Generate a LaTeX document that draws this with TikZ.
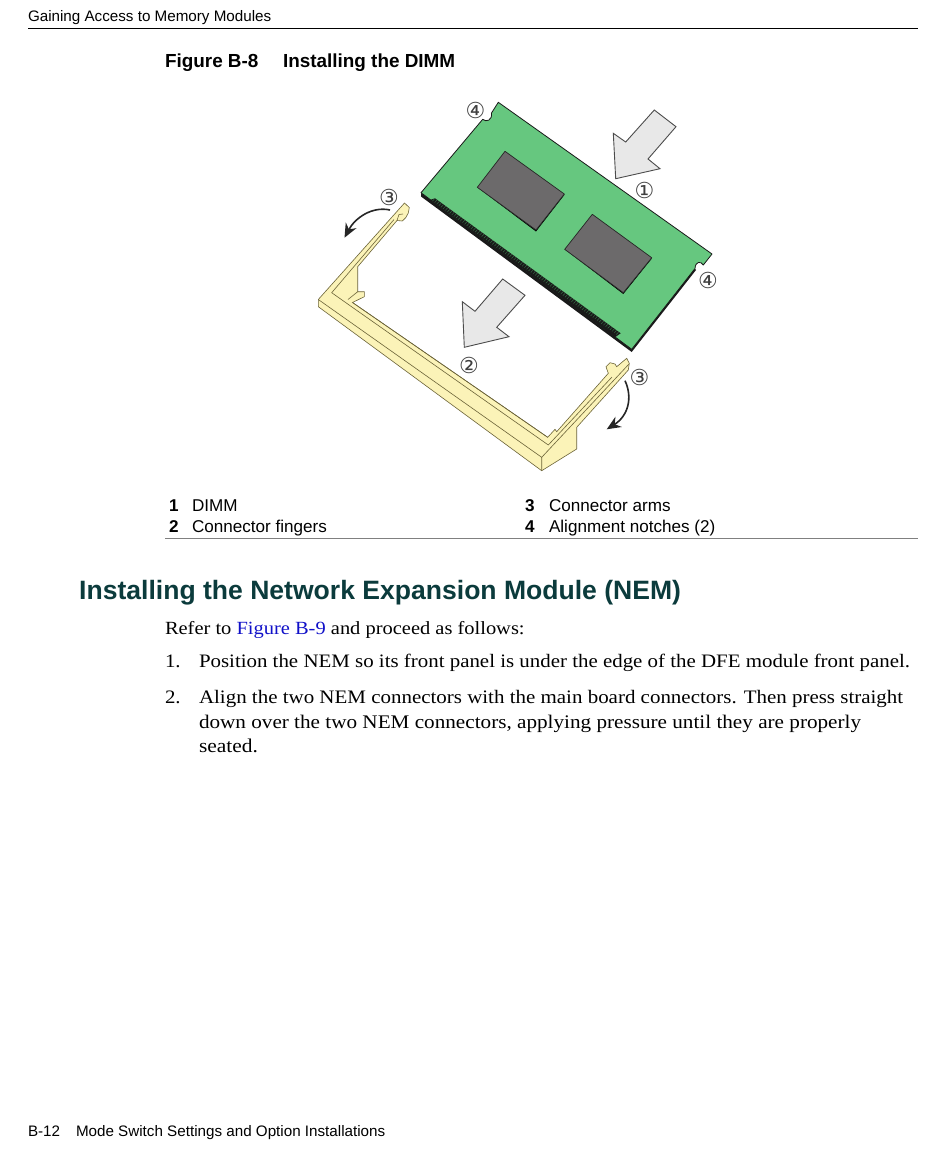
\documentclass[tikz,border=0pt]{standalone}
\usepackage{fontspec}
\setmainfont{Liberation Sans}
\newfontfamily\bodyfont[FakeStretch=1.1]{Liberation Serif}
\newfontfamily\numfont{DejaVu Sans}
\usetikzlibrary{arrows.meta}
\definecolor{dimmgreen}{HTML}{66C77F}
\definecolor{chipgray}{HTML}{6C6A6B}
\definecolor{arrowfill}{HTML}{E8E8E8}
\definecolor{connyellow}{HTML}{FBF3B8}
\definecolor{connline}{HTML}{6B6338}
\definecolor{headteal}{HTML}{0B3B3C}
\definecolor{linkblue}{HTML}{1010C8}
\tikzset{
  x=1pt,y=-1pt,
  txt/.style={anchor=base west,inner sep=0pt,outer sep=0pt,font=\fontsize{15.2}{18}\selectfont},
  body/.style={anchor=base west,inner sep=0pt,outer sep=0pt,font=\bodyfont\fontsize{19}{22}\selectfont},
  capt/.style={anchor=base west,inner sep=0pt,outer sep=0pt,font=\bfseries\fontsize{18.9}{22}\selectfont},
  legend/.style={anchor=base west,inner sep=0pt,outer sep=0pt,font=\fontsize{17.1}{20}\selectfont},
  legendnum/.style={anchor=base west,inner sep=0pt,outer sep=0pt,font=\bfseries\fontsize{17.1}{20}\selectfont},
  callout/.style={inner sep=0pt,font=\numfont\fontsize{22}{22}\selectfont,text=black!75},
  movearrow/.style={draw=black!70,fill=arrowfill,line width=0.9pt,line join=miter},
  conn/.style={draw=connline,fill=connyellow,line width=0.6pt,line join=miter},
  connedge/.style={draw=connline,line width=0.6pt},
  swing/.style={draw=black!85,line width=1.6pt,-{Stealth[length=14pt,width=12pt]}},
}
\begin{document}
\begin{tikzpicture}
\useasboundingbox (0,0) rectangle (950,1157);
% page furniture
\node[txt] (hdr) at (28,21.5) {Gaining Access to Memory Modules};
\coordinate (hrA) at (28,28.5); \coordinate (hrB) at (918,28.5);
\draw[line width=0.9pt] (hrA) -- (hrB);
\node[capt] (capA) at (165,67) {Figure B-8};
\node[capt] (capB) at (283,67) {Installing the DIMM};
% DIMM
\fill[black!90] (421,192.7) -- (421,196.5) -- (631.7,352) -- (696,270) -- (694,268) -- (631.7,349.3) -- cycle;
\draw[black!90,fill=dimmgreen,line width=0.8pt,line join=round]
  (498.3,102.3) -- (712,254) -- (703.3,265)
  .. controls (701,261) and (695.5,261) .. (695,268.5)
  -- (631.7,349.3) -- (421,192.7) -- (482.7,119.3)
  .. controls (486,122.5) and (492.5,120.5) .. (491.5,113) -- cycle;
\fill[black!90] (435,198.3) -- (620.7,333.3) -- (615,337.2) -- (430.5,199.8) -- cycle;
\foreach \t in {0,0.0115,...,1.0}{
  \draw[dimmgreen!55!black,line width=0.45pt] ({435+185.7*\t},{198.3+135*\t}) -- ({432.5+185.7*\t},{201+135*\t});
}
% chips
\fill[black] (477.3,187.3) -- (536,231.5) -- (564.3,195) -- (564.3,194) -- (536,230) -- cycle;
\draw[black!85,fill=chipgray,line width=0.7pt,line join=round] (505,151.3) -- (564.3,194) -- (536,230) -- (477.3,187.3) -- cycle;
\fill[black] (564.7,249.3) -- (623.3,294) -- (651.7,258.7) -- (651.7,257.7) -- (623.3,292.7) -- cycle;
\draw[black!85,fill=chipgray,line width=0.7pt,line join=round] (592.3,214.3) -- (651.7,257.7) -- (623.3,292.7) -- (564.7,249.3) -- cycle;
% insertion arrows
\draw[movearrow] (654.3,110) -- (676,126.7) -- (648,159) -- (660,168.7) -- (615.7,178.7) -- (613.3,133.3) -- (625.7,142) -- cycle;
\draw[movearrow] (502.7,279) -- (525,295.3) -- (496.7,327.3) -- (509,336.7) -- (464.3,347.3) -- (462.3,301.7) -- (475,311.3) -- cycle;
% connector body
\draw[conn]
  (404.5,203) -- (409.3,207.5) -- (408.3,213) -- (405.7,217.7) -- (402.3,221) -- (397,220.5)
  -- (357.7,266.7) -- (357.7,291.7) -- (364.3,291.7) -- (364.3,296.7) -- (352.5,302.5)
  -- (547.7,437.3) -- (555,429.3) -- (556.7,431.7) -- (608.3,373.3) -- (606,366.7) -- (610,362.7) -- (615,364) -- (616.7,366.7) -- (626.7,358.3)
  -- (629.3,363.3) -- (628.3,370) -- (576.7,427.3) -- (576.7,449) -- (541.7,470.7) -- (318.3,306.7) -- (318.3,299.5) -- cycle;
\coordinate (outerL) at (318.3,299.5);
\coordinate (outerB) at (541.7,457.3);
\coordinate (outerLow) at (318.3,306.7);
\coordinate (bottomC) at (541.7,470.7);
\coordinate (tipR) at (629,364);
\coordinate (innerL) at (331.7,292.7);
\coordinate (innerM) at (346.7,303.3);
\coordinate (innerB) at (548.3,445);
\coordinate (innerT) at (612,377);
\draw[connedge] (outerL) -- (outerB) -- (bottomC);
\draw[connedge] (outerB) -- (tipR);
\draw[connedge] (394,219.5) -- (innerL) -- (innerM) -- (innerB) -- (innerT);
\draw[connedge] (352.5,302.5) -- (547.7,437.3);
\draw[connedge] (357.7,291.7) -- (348,299.5);
\draw[connedge] (397,220.5) -- (399,214.5) -- (403,214);
% swing arrows
\draw[swing] (390,210) .. controls (372,206) and (355,218) .. (344.5,237.7);
\draw[swing] (625,380.7) .. controls (633,398) and (628,416) .. (606.7,429.3);
% callouts
\node[callout] (c4a) at (475.5,110) {④};
\node[callout] (c1) at (644.5,190) {①};
\node[callout] (c3a) at (389,197) {③};
\node[callout] (c4b) at (708,280) {④};
\node[callout] (c2) at (469,365) {②};
\node[callout] (c3b) at (639.5,377) {③};
% legend
\node[legendnum] (l1) at (169,511) {1};
\node[legend] (l1t) at (192,511) {DIMM};
\node[legendnum] (l2) at (169,532) {2};
\node[legend] (l2t) at (192,532) {Connector fingers};
\node[legendnum] (l3) at (525,511) {3};
\node[legend] (l3t) at (549,511) {Connector arms};
\node[legendnum] (l4) at (525,532) {4};
\node[legend] (l4t) at (549,532) {Alignment notches (2)};
\coordinate (lrA) at (165,538); \coordinate (lrB) at (918,538);
\draw[black!50,line width=0.9pt] (lrA) -- (lrB);
% section
\node[anchor=base west,inner sep=0pt,text=headteal,font=\bfseries\fontsize{26.55}{30}\selectfont] (sec) at (79,599.5) {Installing the Network Expansion Module (NEM)};
\node[body,font=\bodyfont\fontsize{18.6}{22}\selectfont] (p0) at (165,634.5) {Refer to \textcolor{linkblue}{Figure B-9} and proceed as follows:};
\node[body] (n1) at (165,667.5) {1.};
\node[body] (t1) at (199,667.5) {Position the NEM so its front panel is under the edge of the DFE module front panel.};
\node[body] (n2) at (165,703) {2.};
\node[body,font=\bodyfont\fontsize{19.05}{22}\selectfont] (t2) at (199,703) {Align the two NEM connectors with the main board connectors. Then press straight};
\node[body,font=\bodyfont\fontsize{19.25}{22}\selectfont] (t3) at (199,728) {down over the two NEM connectors, applying pressure until they are properly};
\node[body,font=\bodyfont\fontsize{19.5}{22}\selectfont] (t4) at (199,752) {seated.};
\node[txt] (f1) at (28,1136) {B-12};
\node[txt] (f2) at (76,1136) {Mode Switch Settings and Option Installations};
\end{tikzpicture}
\end{document}
